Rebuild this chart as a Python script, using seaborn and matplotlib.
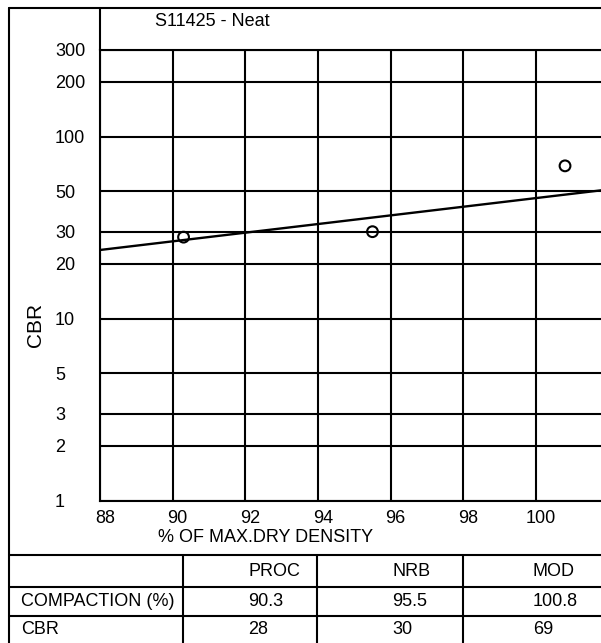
import matplotlib
matplotlib.use('Agg')
import matplotlib.pyplot as plt
import matplotlib.transforms as mtransforms
from matplotlib.lines import Line2D
from matplotlib.ticker import NullLocator, FixedLocator, FixedFormatter
import seaborn as sns
import pandas as pd

# ---- data ----
methods = ['PROC', 'NRB', 'MOD']
compaction = [90.3, 95.5, 100.8]
cbr = [28, 30, 69]
fit_x = [88, 102]
fit_cbr = [23.8, 51.2]
x_ticks = [88, 90, 92, 94, 96, 98, 100]
y_ticks = [1, 2, 3, 5, 10, 20, 30, 50, 100, 200, 300]
title = 'S11425 - Neat'
x_label = '% OF MAX.DRY DENSITY'
y_label = 'CBR'
row_labels = ['COMPACTION (%)', 'CBR']

sns.set_theme(style='white')
plt.rcParams['font.family'] = ['Liberation Sans', 'DejaVu Sans']
plt.rcParams['text.color'] = 'black'

W, H = 601, 643
fig = plt.figure(figsize=(W / 100, H / 100), dpi=100)
fig.patch.set_facecolor('white')


def fx(px):
    return px / W


def fy(py):
    return 1 - py / H


FS = 13
LW = 1.5

ax_l, ax_t, ax_r, ax_b = 100, 49.7, 601, 500.5
ax = fig.add_axes([fx(ax_l), fy(ax_b), (ax_r - ax_l) / W, (ax_b - ax_t) / H])
ax.set_facecolor('white')

pts = pd.DataFrame({'compaction': compaction, 'cbr': cbr, 'method': methods})
fit = pd.DataFrame({'x': fit_x, 'y': fit_cbr})

sns.lineplot(data=fit, x='x', y='y', ax=ax, color='black', lw=1.7, zorder=3)
sns.scatterplot(data=pts, x='compaction', y='cbr', ax=ax, marker='o', s=60,
                facecolor='none', edgecolor='black', linewidth=1.5, zorder=4)

ax.set_yscale('log')
ax.set_xlim(88, 88 + (ax_r - ax_l) / 36.33)
ax.set_ylim(1, 300)

ax.xaxis.set_major_locator(FixedLocator(x_ticks))
ax.xaxis.set_major_formatter(FixedFormatter([str(v) for v in x_ticks]))
ax.yaxis.set_major_locator(FixedLocator(y_ticks))
ax.yaxis.set_major_formatter(FixedFormatter([str(v) for v in y_ticks]))
ax.yaxis.set_minor_locator(NullLocator())
ax.xaxis.set_minor_locator(NullLocator())

ax.grid(True, which='major', color='black', lw=LW)
ax.set_axisbelow(True)
ax.set_xlabel('')
ax.set_ylabel('')

ax.tick_params(axis='x', length=0, pad=7, labelsize=FS, labelcolor='black')
ax.tick_params(axis='y', length=0, pad=(ax_l - 55) * 0.72, labelsize=FS,
               labelcolor='black')
for lab in ax.get_yticklabels():
    lab.set_ha('left')
offset = mtransforms.ScaledTranslation(0.05, 0, fig.dpi_scale_trans)
for lab in ax.get_xticklabels():
    lab.set_transform(lab.get_transform() + offset)

for side in ['left', 'bottom', 'top']:
    ax.spines[side].set_color('black')
    ax.spines[side].set_linewidth(LW)
ax.spines['right'].set_visible(False)


def hline(y, x0, x1):
    fig.add_artist(Line2D([fx(x0), fx(x1)], [fy(y), fy(y)], color='black', lw=LW))


def vline(x, y0, y1):
    fig.add_artist(Line2D([fx(x), fx(x)], [fy(y0), fy(y1)], color='black', lw=LW))


# frame
hline(8.3, 9, W)
vline(9, 8.3, H)
vline(ax_l, 8.3, ax_t)

# title and axis labels
fig.text(fx(212), fy(21.7), title, ha='center', va='center', fontsize=FS)
fig.text(fx(35), fy(325), y_label, ha='center', va='center', rotation=90,
         fontsize=15)
fig.text(fx(266), fy(537), x_label, ha='center', va='center', fontsize=FS)

# table
for y in [555, 587, 616]:
    hline(y, 9, W)
for x in [183, 317, 463]:
    vline(x, 555, H)

col_x = [248, 392, 533]
for i, m in enumerate(methods):
    fig.text(fx(col_x[i]), fy(571), m, ha='left', va='center', fontsize=FS)
    fig.text(fx(col_x[i]), fy(601), f'{compaction[i]:.1f}', ha='left',
             va='center', fontsize=FS)
    fig.text(fx(col_x[i]), fy(630), f'{cbr[i]:d}', ha='left', va='center',
             fontsize=FS)
fig.text(fx(21), fy(601), row_labels[0], ha='left', va='center', fontsize=FS)
fig.text(fx(21), fy(630), row_labels[1], ha='left', va='center', fontsize=FS)

fig.savefig('out.png', dpi=100, facecolor='white')
